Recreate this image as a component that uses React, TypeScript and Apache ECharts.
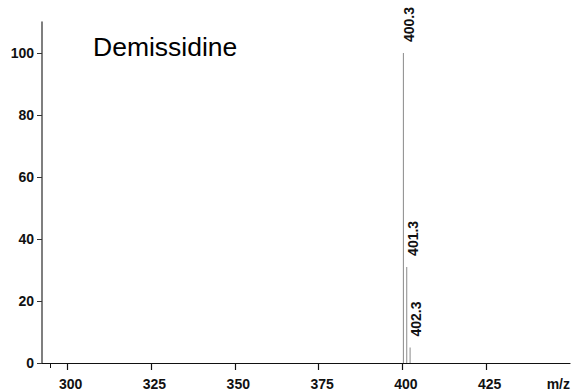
import React, { useEffect, useRef } from "react";
import * as echarts from "echarts";

const peakMz = [400.3, 401.3, 402.3];
const peakIntensity = [100, 31, 5];
const xTickValues = [300, 325, 350, 375, 400, 425];
const xLabelValues = [300, 325, 350, 375, 400, 425, 450];
const xMinorTicks = [295];
const yTickValues = [0, 20, 40, 60, 80, 100];
const compoundName = "Demissidine";
const xAxisUnit = "m/z";

const FONT = "'Liberation Sans', Arial, Helvetica, sans-serif";

export default function App() {
  const ref = useRef<HTMLDivElement>(null);
  useEffect(() => {
    if (!ref.current) return;
    const chart = echarts.init(ref.current, null, { renderer: "svg" });
    const data = peakMz.map((m, i) => [m, peakIntensity[i]]);
    chart.setOption({
      animation: false,
      backgroundColor: "#ffffff",
      grid: { left: 42, right: 0, top: 22, bottom: 25 },
      xAxis: [
        {
          type: "value",
          min: 292.5,
          max: 450,
          axisLine: { show: true, onZero: false, lineStyle: { color: "#111", width: 1.2 } },
          axisTick: { show: true, length: 7, customValues: xTickValues, lineStyle: { color: "#111", width: 1.2 } },
          axisLabel: {
            show: true,
            customValues: xLabelValues,
            margin: 14,
            padding: [0, 0, 0, 7],
            color: "#111",
            fontFamily: FONT,
            fontWeight: "bold",
            fontSize: 14,
            alignMaxLabel: "right",
            formatter: (v: number) => (v === 450 ? xAxisUnit : String(v)),
          },
          splitLine: { show: false },
        },
        {
          type: "value",
          position: "bottom",
          min: 292.5,
          max: 450,
          axisLine: { show: false, onZero: false },
          axisTick: { show: true, length: 5, customValues: xMinorTicks, lineStyle: { color: "#111", width: 1 } },
          axisLabel: { show: false },
          splitLine: { show: false },
        },
      ],
      yAxis: {
        type: "value",
        min: 0,
        max: 110,
        axisLine: { show: true, onZero: false, lineStyle: { color: "#555", width: 1.5 } },
        axisTick: { show: true, length: 5, customValues: yTickValues, lineStyle: { color: "#333", width: 1 } },
        axisLabel: {
          show: true,
          customValues: yTickValues,
          margin: 8,
          color: "#111",
          fontFamily: FONT,
          fontWeight: "bold",
          fontSize: 14,
        },
        splitLine: { show: false },
      },
      graphic: [
        {
          type: "text",
          left: 93,
          top: 33,
          style: {
            text: compoundName,
            fontFamily: FONT,
            fontSize: 26.5,
            fill: "#000",
          },
        },
      ],
      series: [
        {
          type: "bar",
          xAxisIndex: 0,
          data,
          barWidth: 1,
          itemStyle: { color: "#8a8a8a" },
          label: {
            show: true,
            position: "top",
            distance: 11,
            rotate: 90,
            align: "left",
            verticalAlign: "middle",
            offset: [0, 6],
            color: "#111",
            fontFamily: FONT,
            fontWeight: "bold",
            fontSize: 14,
            formatter: (p: any) => Number(p.value[0]).toFixed(1),
          },
        },
      ],
    });
    return () => chart.dispose();
  }, []);
  return (
    <div
      ref={ref}
      style={{ position: "fixed", left: 0, top: 0, width: 573, height: 391, background: "#fff" }}
    />
  );
}
